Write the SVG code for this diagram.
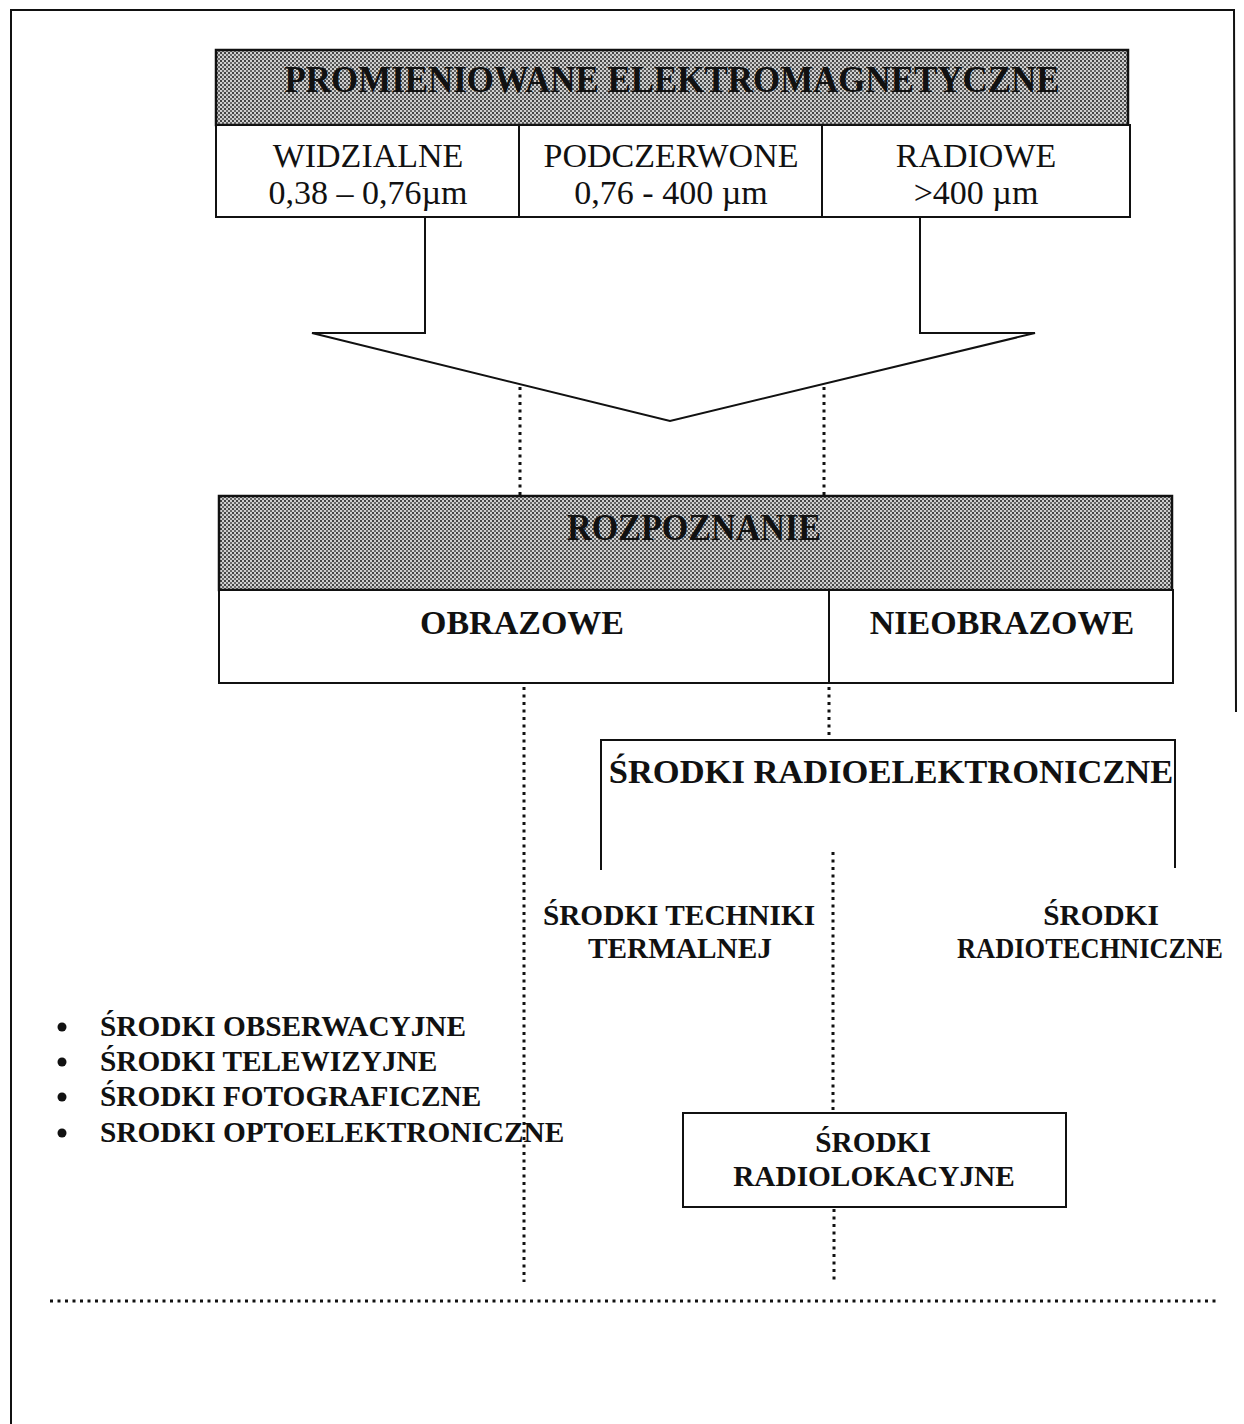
<svg xmlns="http://www.w3.org/2000/svg" width="1244" height="1424" viewBox="0 0 1244 1424">
<style>
.ln{fill:none;stroke:#111;stroke-width:2}
.box{fill:#fff;stroke:#111;stroke-width:2}
.shade{fill:url(#dots);stroke:#111;stroke-width:2.5}
.dot{fill:none;stroke:#111;stroke-width:3;stroke-dasharray:3 4.5}
.t{font-family:"Liberation Serif","Times New Roman",serif;fill:#111;text-anchor:middle}
.b{font-weight:bold}
.lb{font-family:"Liberation Serif","Times New Roman",serif;fill:#111;font-weight:bold;font-size:29.3px}
</style>
<defs>
<pattern id="dots" width="4" height="4" patternUnits="userSpaceOnUse">
<rect width="4" height="4" fill="#cfcfcf"/>
<rect x="0" y="0" width="2" height="2" fill="#444"/>
<rect x="2" y="2" width="2" height="2" fill="#666"/>
</pattern>
</defs>
<rect width="1244" height="1424" fill="#fff"/>
<g id="frame">
<path class="ln" d="M11 1424 V10 H1234 L1236 712"/>
</g>
<g id="connectors">
<path class="ln" d="M425 217 V333 H312 L670 421 L1035 333 H920 V217"/>
<path class="dot" d="M520 387 V496"/>
<path class="dot" d="M824 387 V496"/>
<path class="dot" d="M524 687 V1282"/>
<path class="dot" d="M829 687 V740"/>
<path class="dot" d="M833 852 V1113"/>
<path class="dot" d="M834 1209 V1282"/>
<path class="dot" d="M50 1301 H1218"/>
</g>
<g id="promieniowanie">
<rect class="shade" x="216" y="50" width="912" height="75"/>
<text class="t b" x="672" y="92" font-size="37" textLength="775" lengthAdjust="spacingAndGlyphs">PROMIENIOWANE ELEKTROMAGNETYCZNE</text>
</g>
<g id="widzialne">
<rect class="box" x="216" y="125" width="303" height="92"/>
<text class="t" x="368" y="167" font-size="34">WIDZIALNE</text>
<text class="t" x="368" y="204" font-size="34">0,38 – 0,76µm</text>
</g>
<g id="podczerwone">
<rect class="box" x="519" y="125" width="303" height="92"/>
<text class="t" x="671" y="167" font-size="34">PODCZERWONE</text>
<text class="t" x="671" y="204" font-size="34">0,76 - 400 µm</text>
</g>
<g id="radiowe">
<rect class="box" x="822" y="125" width="308" height="92"/>
<text class="t" x="976" y="167" font-size="34">RADIOWE</text>
<text class="t" x="976" y="204" font-size="34">&gt;400 µm</text>
</g>
<g id="rozpoznanie">
<rect class="shade" x="219" y="496" width="953" height="94"/>
<text class="t b" x="694" y="540" font-size="37" textLength="254" lengthAdjust="spacingAndGlyphs">ROZPOZNANIE</text>
</g>
<g id="obrazowe">
<rect class="box" x="219" y="590" width="610" height="93"/>
<text class="t b" x="522" y="634" font-size="34">OBRAZOWE</text>
</g>
<g id="nieobrazowe">
<rect class="box" x="829" y="590" width="344" height="93"/>
<text class="t b" x="1002" y="634" font-size="34">NIEOBRAZOWE</text>
</g>
<g id="radioelektroniczne">
<path class="ln" d="M601 870 V740 H1175 V868"/>
<text class="t b" x="891" y="783" font-size="34.5">ŚRODKI RADIOELEKTRONICZNE</text>
</g>
<g id="termalnej">
<text class="t b" x="679" y="925" font-size="29.3">ŚRODKI TECHNIKI</text>
<text class="t b" x="680" y="958" font-size="29.3">TERMALNEJ</text>
</g>
<g id="radiotechniczne">
<text class="t b" x="1101" y="925" font-size="29.3">ŚRODKI</text>
<text class="b" x="957" y="958" font-size="28.5" font-family="Liberation Serif, Times New Roman, serif" fill="#111" textLength="266" lengthAdjust="spacingAndGlyphs">RADIOTECHNICZNE</text>
</g>
<g id="obrazowe-list">
<circle cx="62" cy="1027" r="4.5" fill="#111"/>
<circle cx="62" cy="1062" r="4.5" fill="#111"/>
<circle cx="62" cy="1097" r="4.5" fill="#111"/>
<circle cx="62" cy="1133" r="4.5" fill="#111"/>
<text class="lb" x="100" y="1036">ŚRODKI OBSERWACYJNE</text>
<text class="lb" x="100" y="1071">ŚRODKI TELEWIZYJNE</text>
<text class="lb" x="100" y="1106">ŚRODKI FOTOGRAFICZNE</text>
<text class="lb" x="100" y="1142">SRODKI OPTOELEKTRONICZNE</text>
</g>
<g id="radiolokacyjne">
<rect class="box" x="683" y="1113" width="383" height="94"/>
<text class="t b" x="873" y="1152" font-size="29.3">ŚRODKI</text>
<text class="t b" x="874" y="1186" font-size="29.3">RADIOLOKACYJNE</text>
</g>
</svg>
